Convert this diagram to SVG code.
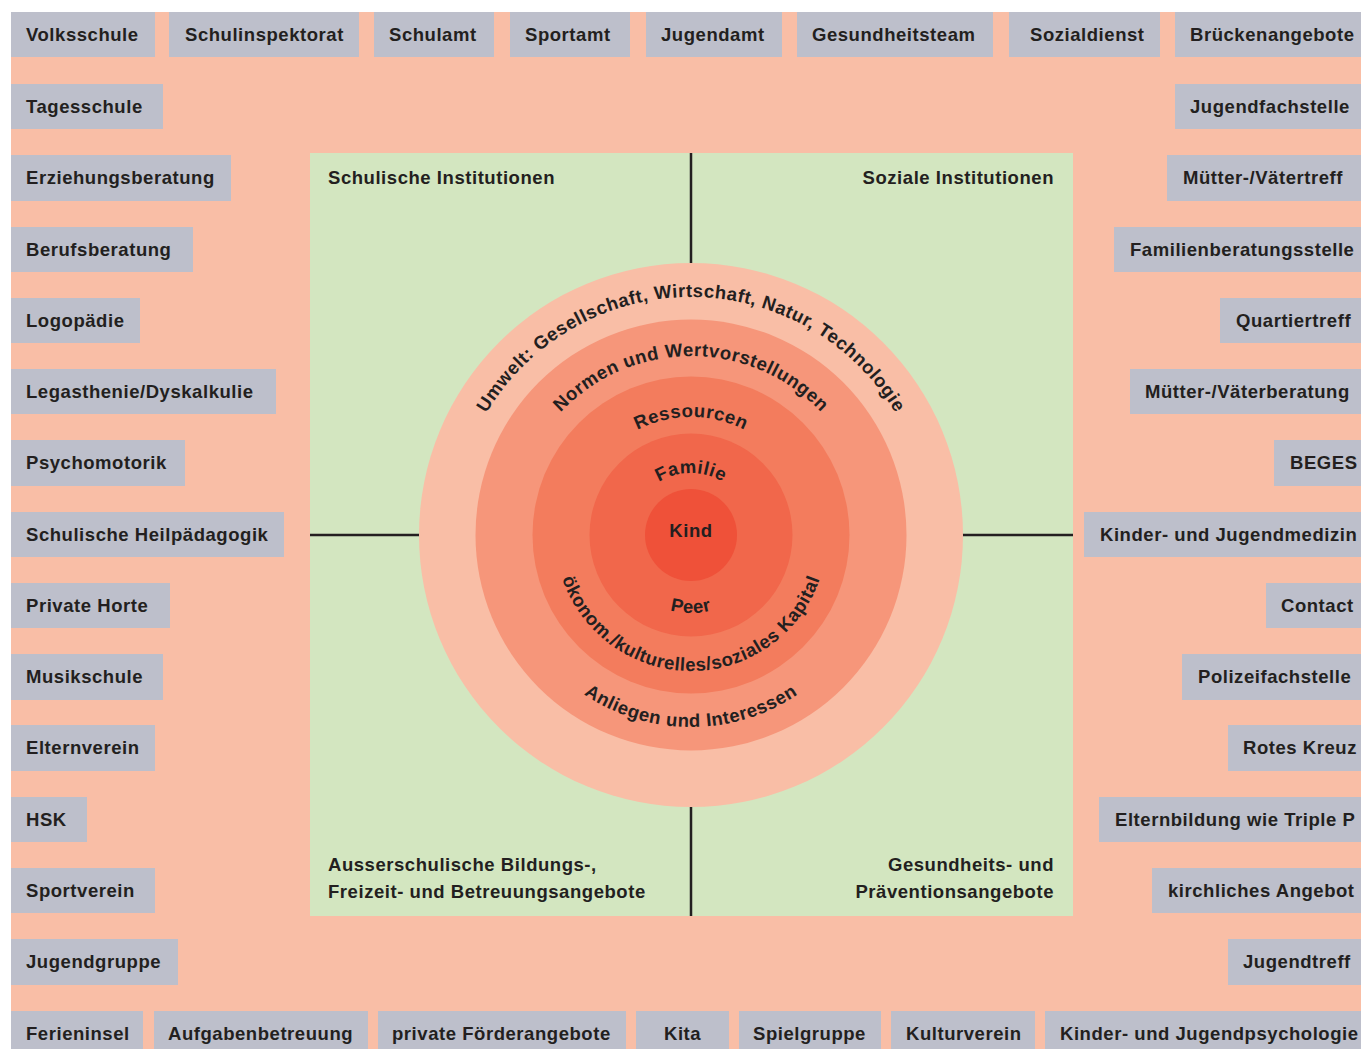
<svg xmlns="http://www.w3.org/2000/svg" xmlns:xlink="http://www.w3.org/1999/xlink" width="1361" height="1049" viewBox="0 0 1361 1049">
<defs>
<style>
.bg{fill:#f9bea6}
.box{fill:#bdbfcb}
.t{font-family:"Liberation Sans",Arial,Helvetica,sans-serif;font-weight:bold;font-size:18.5px;letter-spacing:0.55px;fill:#231f20}
.e{text-anchor:end}
.m{text-anchor:middle}
.div{stroke:#231f20;stroke-width:2.5;fill:none}
</style>
<path id="pUmwelt" d="M 453 535 A 238 238 0 0 1 929 535"/>
<path id="pNormen" d="M 512 535 A 179 179 0 0 1 870 535"/>
<path id="pRess" d="M 573 535 A 118 118 0 0 1 809 535"/>
<path id="pFam" d="M 629 535 A 62 62 0 0 1 753 535"/>
<path id="pPeer" d="M 613 535 A 78 78 0 0 0 769 535"/>
<path id="pOek" d="M 555 535 A 136 136 0 0 0 827 535"/>
<path id="pAnl" d="M 499 535 A 192 192 0 0 0 883 535"/>
</defs>
<rect x="0" y="0" width="1361" height="1049" fill="#ffffff"/>
<rect class="bg" x="11" y="12" width="1350" height="1037"/>

<g id="top-row">
<g id="n-volksschule"><rect class="box" x="11" y="12" width="144" height="45"/><text class="t" x="26" y="41">Volksschule</text></g>
<g id="n-schulinspektorat"><rect class="box" x="169" y="12" width="190" height="45"/><text class="t" x="185" y="41">Schulinspektorat</text></g>
<g id="n-schulamt"><rect class="box" x="374" y="12" width="120" height="45"/><text class="t" x="389" y="41">Schulamt</text></g>
<g id="n-sportamt"><rect class="box" x="510" y="12" width="120" height="45"/><text class="t" x="525" y="41">Sportamt</text></g>
<g id="n-jugendamt"><rect class="box" x="646" y="12" width="136" height="45"/><text class="t" x="661" y="41">Jugendamt</text></g>
<g id="n-gesundheitsteam"><rect class="box" x="797" y="12" width="196" height="45"/><text class="t" x="812" y="41">Gesundheitsteam</text></g>
<g id="n-sozialdienst"><rect class="box" x="1009" y="12" width="151" height="45"/><text class="t" x="1030" y="41">Sozialdienst</text></g>
<g id="n-brueckenangebote"><rect class="box" x="1175" y="12" width="186" height="45"/><text class="t" x="1190" y="41">Brückenangebote</text></g>
</g>

<g id="left-column">
<g id="n-tagesschule"><rect class="box" x="11" y="84" width="152" height="45"/><text class="t" x="26" y="113">Tagesschule</text></g>
<g id="n-erziehungsberatung"><rect class="box" x="11" y="155" width="220" height="46"/><text class="t" x="26" y="184">Erziehungsberatung</text></g>
<g id="n-berufsberatung"><rect class="box" x="11" y="227" width="182" height="45"/><text class="t" x="26" y="256">Berufsberatung</text></g>
<g id="n-logopaedie"><rect class="box" x="11" y="298" width="129" height="45"/><text class="t" x="26" y="327">Logopädie</text></g>
<g id="n-legasthenie"><rect class="box" x="11" y="369" width="265" height="45"/><text class="t" x="26" y="398">Legasthenie/Dyskalkulie</text></g>
<g id="n-psychomotorik"><rect class="box" x="11" y="440" width="174" height="46"/><text class="t" x="26" y="469">Psychomotorik</text></g>
<g id="n-heilpaedagogik"><rect class="box" x="11" y="512" width="273" height="45"/><text class="t" x="26" y="541">Schulische Heilpädagogik</text></g>
<g id="n-privatehorte"><rect class="box" x="11" y="583" width="159" height="45"/><text class="t" x="26" y="612">Private Horte</text></g>
<g id="n-musikschule"><rect class="box" x="11" y="654" width="152" height="46"/><text class="t" x="26" y="683">Musikschule</text></g>
<g id="n-elternverein"><rect class="box" x="11" y="725" width="144" height="46"/><text class="t" x="26" y="754">Elternverein</text></g>
<g id="n-hsk"><rect class="box" x="11" y="797" width="76" height="45"/><text class="t" x="26" y="826">HSK</text></g>
<g id="n-sportverein"><rect class="box" x="11" y="868" width="144" height="45"/><text class="t" x="26" y="897">Sportverein</text></g>
<g id="n-jugendgruppe"><rect class="box" x="11" y="939" width="167" height="46"/><text class="t" x="26" y="968">Jugendgruppe</text></g>
</g>

<g id="right-column">
<g id="n-jugendfachstelle"><rect class="box" x="1175" y="84" width="186" height="45"/><text class="t" x="1190" y="113">Jugendfachstelle</text></g>
<g id="n-muettertreff"><rect class="box" x="1167" y="155" width="194" height="46"/><text class="t" x="1183" y="184">Mütter-/Vätertreff</text></g>
<g id="n-familienberatung"><rect class="box" x="1114" y="227" width="247" height="45"/><text class="t" x="1130" y="256">Familienberatungsstelle</text></g>
<g id="n-quartiertreff"><rect class="box" x="1220" y="298" width="141" height="45"/><text class="t" x="1236" y="327">Quartiertreff</text></g>
<g id="n-mutterberatung"><rect class="box" x="1130" y="369" width="231" height="45"/><text class="t" x="1145" y="398">Mütter-/Väterberatung</text></g>
<g id="n-beges"><rect class="box" x="1274" y="440" width="87" height="46"/><text class="t" x="1290" y="469">BEGES</text></g>
<g id="n-kindermedizin"><rect class="box" x="1084" y="512" width="277" height="45"/><text class="t" x="1100" y="541">Kinder- und Jugendmedizin</text></g>
<g id="n-contact"><rect class="box" x="1266" y="583" width="95" height="45"/><text class="t" x="1281" y="612">Contact</text></g>
<g id="n-polizei"><rect class="box" x="1182" y="654" width="179" height="46"/><text class="t" x="1198" y="683">Polizeifachstelle</text></g>
<g id="n-roteskreuz"><rect class="box" x="1228" y="725" width="133" height="46"/><text class="t" x="1243" y="754">Rotes Kreuz</text></g>
<g id="n-elternbildung"><rect class="box" x="1099" y="797" width="262" height="45"/><text class="t" x="1115" y="826">Elternbildung wie Triple P</text></g>
<g id="n-kirchlich"><rect class="box" x="1152" y="868" width="209" height="45"/><text class="t" x="1168" y="897">kirchliches Angebot</text></g>
<g id="n-jugendtreff"><rect class="box" x="1228" y="939" width="133" height="46"/><text class="t" x="1243" y="968">Jugendtreff</text></g>
</g>

<g id="bottom-row">
<g id="n-ferieninsel"><rect class="box" x="11" y="1011" width="132" height="38"/><text class="t" x="26" y="1040">Ferieninsel</text></g>
<g id="n-aufgaben"><rect class="box" x="154" y="1011" width="214" height="38"/><text class="t" x="168" y="1040">Aufgabenbetreuung</text></g>
<g id="n-foerder"><rect class="box" x="378" y="1011" width="248" height="38"/><text class="t" x="392" y="1040">private Förderangebote</text></g>
<g id="n-kita"><rect class="box" x="636" y="1011" width="93" height="38"/><text class="t" x="664" y="1040">Kita</text></g>
<g id="n-spielgruppe"><rect class="box" x="739" y="1011" width="142" height="38"/><text class="t" x="753" y="1040">Spielgruppe</text></g>
<g id="n-kulturverein"><rect class="box" x="891" y="1011" width="144" height="38"/><text class="t" x="906" y="1040">Kulturverein</text></g>
<g id="n-kinderpsych"><rect class="box" x="1045" y="1011" width="316" height="38"/><text class="t" x="1060" y="1040">Kinder- und Jugendpsychologie</text></g>
</g>

<g id="quadrants">
<rect x="310" y="153" width="763" height="763" fill="#d3e6c0"/>
<text class="t" x="328" y="184">Schulische Institutionen</text>
<text class="t e" x="1054" y="184">Soziale Institutionen</text>
<text class="t" x="328" y="871">Ausserschulische Bildungs-,</text>
<text class="t" x="328" y="898">Freizeit- und Betreuungsangebote</text>
<text class="t e" x="1054" y="871">Gesundheits- und</text>
<text class="t e" x="1054" y="898">Präventionsangebote</text>
</g>

<g id="connectors">
<line class="div" x1="691" y1="153" x2="691" y2="916"/>
<line class="div" x1="310" y1="535" x2="1073" y2="535"/>
</g>

<g id="circles">
<g id="c-umwelt"><circle cx="691" cy="535" r="272" fill="#f9bea6"/>
<text class="t m"><textPath xlink:href="#pUmwelt" href="#pUmwelt" startOffset="50%">Umwelt: Gesellschaft, Wirtschaft, Natur, Technologie</textPath></text></g>
<g id="c-normen"><circle cx="691" cy="535" r="215.5" fill="#f6967a"/>
<text class="t m"><textPath xlink:href="#pNormen" href="#pNormen" startOffset="50%">Normen und Wertvorstellungen</textPath></text>
<text class="t m"><textPath xlink:href="#pAnl" href="#pAnl" startOffset="50%">Anliegen und Interessen</textPath></text></g>
<g id="c-ressourcen"><circle cx="691" cy="535" r="158.5" fill="#f37c5d"/>
<text class="t m"><textPath xlink:href="#pRess" href="#pRess" startOffset="50%">Ressourcen</textPath></text>
<text class="t m"><textPath xlink:href="#pOek" href="#pOek" startOffset="50%">ökonom./kulturelles/soziales Kapital</textPath></text></g>
<g id="c-familie"><circle cx="691" cy="535" r="101.5" fill="#f1674b"/>
<text class="t m"><textPath xlink:href="#pFam" href="#pFam" startOffset="50%">Familie</textPath></text>
<text class="t m"><textPath xlink:href="#pPeer" href="#pPeer" startOffset="50%">Peer</textPath></text></g>
<g id="c-kind"><circle cx="691" cy="535" r="46" fill="#ef5139"/>
<text class="t m" x="691" y="537">Kind</text></g>
</g>
</svg>
